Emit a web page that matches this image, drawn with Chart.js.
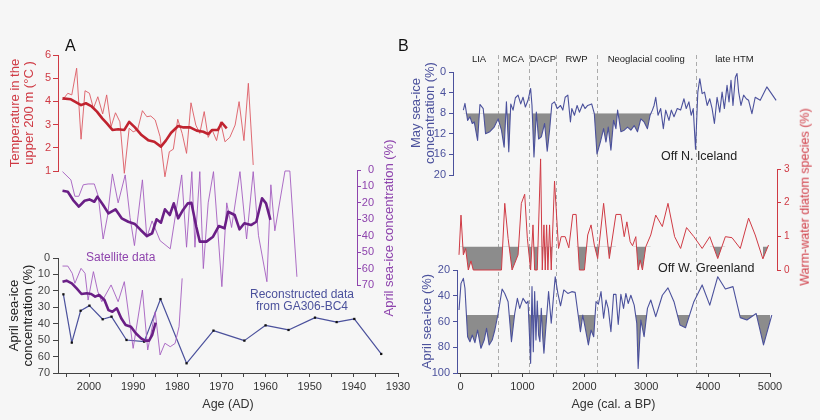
<!DOCTYPE html>
<html><head><meta charset="utf-8">
<script src="https://cdn.jsdelivr.net/npm/chart.js@4.4.0/dist/chart.umd.min.js"></script>
<style>
html,body{margin:0;padding:0;background:#f6f6f6;}
#wrap{position:relative;width:820px;height:420px;overflow:hidden;font-family:"Liberation Sans",Arial,Helvetica,sans-serif;}
canvas{position:absolute;left:0;top:0;}
.t{position:absolute;white-space:nowrap;line-height:1;}
.rot{position:absolute;white-space:nowrap;transform:translate(-50%,-50%) rotate(-90deg);text-align:center;}
</style></head><body><div id="wrap">
<canvas id="cBb" width="820" height="420"></canvas>
<canvas id="cBt" width="820" height="420"></canvas>
<canvas id="cBm" width="820" height="420"></canvas>
<canvas id="cA1" width="820" height="420"></canvas>
<canvas id="cA2" width="820" height="420"></canvas>
<canvas id="cA3" width="820" height="420"></canvas>
<div class="t" style="left:65px;top:38px;font-size:16px;color:#111;">A</div>
<div class="t" style="left:398px;top:38px;font-size:16px;color:#111;">B</div>
<div class="t" style="left:86px;top:251px;font-size:12px;color:#8e44ad;">Satellite data</div>
<div class="t" style="left:302px;top:289px;font-size:12px;color:#4b519c;transform:translateX(-50%);text-align:center;line-height:11.5px;">Reconstructed data<br>from GA306-BC4</div>
<div class="t" style="left:661px;top:150px;font-size:12.5px;color:#222;">Off N. Iceland</div>
<div class="t" style="left:658px;top:262px;font-size:12.5px;color:#222;">Off W. Greenland</div>
<div class="rot" style="left:388px;top:228px;font-size:13px;color:#8e44ad;line-height:1;">April sea-ice concentration (%)</div>
<div class="rot" style="left:805px;top:197px;font-size:12.5px;color:#cf3a44;line-height:1;">Warm-water diatom species (%)</div>
<div class="rot" style="left:422px;top:113px;font-size:13px;color:#4b519c;line-height:13.5px;">May sea-ice<br>concentration (%)</div>
</div>
<script>
// ---------------- DATA ----------------
// Panel A: temperature in the upper 200 m (thin = annual, thick = smoothed)
const tempYears = [2006.0,2004.8,2003.9,2002.8,2001.8,2000.9,1999.9,1999.0,1998.0,1996.9,1996.0,1995.0,1994.0,1993.0,1992.0,1990.9,1990.0,1989.0,1987.9,1986.9,1986.0,1985.0,1983.9,1982.8,1981.8,1980.9,1979.9,1978.9,1977.9,1976.9,1975.8,1974.9,1973.9,1973.0,1972.1,1971.1,1970.2,1969.2,1968.1,1966.9,1966.0,1964.9,1963.9,1962.8];
const tempValues = [4.06,4.35,4.28,5.43,2.37,4.46,4.35,3.70,4.20,3.46,4.28,2.91,3.51,3.12,0.90,2.84,2.69,2.77,3.60,3.34,3.37,3.20,2.48,0.75,1.83,1.94,3.23,2.62,1.76,3.94,2.98,2.62,3.56,2.45,2.77,2.31,3.12,2.26,2.45,2.98,3.99,2.31,4.78,1.26];
const tempSmoothYears = [2006.0,2004.1,2002.7,2001.8,2000.7,1999.5,1998.2,1997.0,1996.0,1994.7,1993.4,1992.0,1990.9,1989.6,1988.1,1986.6,1985.2,1983.7,1982.6,1981.4,1979.8,1978.6,1977.1,1975.6,1974.1,1973.0,1972.1,1970.8,1969.9,1968.8];
const tempSmoothValues = [4.13,4.09,3.94,3.84,3.92,3.80,3.56,3.27,3.06,2.77,2.80,2.77,3.12,2.88,2.55,2.33,2.26,2.05,2.31,2.65,2.94,2.88,2.88,2.74,2.69,2.59,2.77,2.77,3.08,2.84];

// Panel A: satellite April sea-ice concentration (middle)
const satYears = [2006.0,2004.1,2003.2,2002.3,2001.3,2000.2,1998.8,1997.9,1996.8,1995.8,1994.7,1993.4,1991.8,1990.7,1989.7,1987.9,1986.9,1985.7,1983.9,1981.6,1979.0,1977.9,1976.7,1976.0,1974.9,1974.1,1973.0,1971.8,1969.9,1968.8,1967.7,1965.8,1964.3,1962.8,1961.6,1959.7,1958.8,1957.9,1955.6,1954.5,1952.9];
const satValues = [1,6,16,16,9,8.5,8.5,16,42,28,2.4,20,3,29,46,6,41,31,43,48,3,47,1,47,1,60,20,1,71,20,35,1,42,1,40,68,9,37,0.6,0.6,65];
const satSmoothYears = [2006.0,2004.8,2003.6,2002.3,2001.0,1999.9,1998.8,1998.1,1996.8,1995.6,1994.0,1992.6,1991.1,1989.6,1988.3,1986.9,1985.7,1984.7,1983.7,1982.8,1981.7,1980.8,1979.8,1978.7,1977.6,1976.8,1975.7,1974.9,1973.4,1971.9,1970.6,1969.3,1968.5,1967.0,1965.9,1964.8,1963.3,1962.1,1960.8,1959.9,1958.9];
const satSmoothValues = [12.6,13.2,18.3,22.3,18.7,17.9,19.3,16.2,21.3,26.4,23.9,29.4,31.5,32.9,36.5,40.2,38.5,30.0,32.1,23.9,27.4,20.3,29.4,24.3,20.3,19.9,34.5,43.6,43.6,40.6,34.1,35.5,25.4,27.4,36.1,32.4,33.5,31.5,17.2,20.3,30.4];

// Panel A: bottom, satellite vs reconstructed (GA306-BC4)
const satBYears = [2006.0,2004.8,2003.8,2003.2,2001.8,2000.9,2000.2,1999.0,1998.0,1997.1,1995.0,1993.4,1992.0,1990.0,1987.9,1986.7,1985.0,1983.9,1982.8,1981.6,1980.5,1979.6,1978.9];
const satBValues = [4.9,4.9,9.3,15.4,6.3,9.3,25.6,8.3,20.5,26.6,16.4,26.6,14.4,55,19.5,56,32.7,59,51.9,54,52,41.8,12.4];
const satBSmoothYears = [2006.0,2005.1,2003.9,2002.8,2001.7,2000.5,1999.5,1998.6,1997.7,1996.5,1995.6,1994.7,1993.7,1992.7,1991.7,1990.5,1989.4,1988.2,1987.3,1986.4,1985.7,1984.9];
const satBSmoothValues = [14.4,13.8,15.4,18.5,21.9,21.5,21.9,23.5,22.5,25.6,31.7,32.7,30.6,36.7,40.8,41.8,45.8,48.9,50.3,50.3,46.9,39.4];
const reconYears = [2005.8,2003.9,2001.9,1999.9,1996.9,1994.9,1991.5,1987.5,1983.8,1977.9,1971.8,1964.8,1960.0,1954.8,1948.8,1943.9,1939.9,1933.8];
const reconValues = [22.1,51.5,32.1,29.0,37.3,35.7,49.9,50.9,25.0,64.1,44.2,50.3,41.0,43.8,36.3,39.0,37.1,58.4];

// Panel B: periods
const periodBounds = [600,1110,1550,2200,3800];
const periodEdges = [0,600,1110,1550,2200,3800,5050];
const periodNames = ['LIA','MCA','DACP','RWP','Neoglacial cooling','late HTM'];

// Panel B top: May sea-ice off N. Iceland
const mayAge = [46,72,115,153,190,222,276,314,367,405,
  474,544,608,662,705,742,780,812,849,887,
  930,973,1010,1048,1091,1133,1155,1187,1225,1262,
  1305,1359,1401,1439,1476,1519,1562,1616,1653,1691,
  1734,1776,1798,1841,1884,1921,1975,2012,2055,2119,
  2162,2205,2259,2312,2350,2387,2430,2473,2511,2538,
  2591,2645,2699,2752,2806,2859,2913,2966,3020,3063,
  3100,3127,3154,3191,3234,3277,3315,3368,3406,3449,
  3502,3556,3610,3647,3690,3727,3760,3797,3834,3866,
  3904,3942,3985,4027,4065,4102,4145,4188,4226,4263,
  4306,4338,4370,4402,4440,4467,4494,4531,4574,4617,
  4654,4708,4761,4842,4949,5099];
const mayIce = [7.4,6.1,9.4,8.7,10.0,9.7,13.3,6.3,7.1,12.0,
  11.6,10.7,9.1,11.3,14.6,5.8,15.5,6.2,7.4,5.0,
  4.5,6.2,4.9,6.8,5.5,3.2,6.5,16.5,7.8,13.0,
  12.6,10.0,15.4,11.3,6.2,5.8,7.1,6.5,7.4,4.9,
  4.5,9.7,7.1,8.4,6.5,7.8,6.2,7.1,6.5,6.2,
  8.1,15.9,13.6,11.0,13.6,10.7,15.2,9.4,11.0,7.4,
  11.6,11.3,10.7,11.3,10.4,11.6,9.1,9.7,11.0,8.4,
  7.4,6.5,4.9,8.4,7.1,11.0,7.4,9.4,7.4,8.7,
  7.1,7.4,5.2,7.1,5.8,8.4,7.1,15.0,3.9,1.3,
  4.2,3.9,6.5,5.2,7.1,10.0,4.9,7.8,3.9,7.1,
  2.6,5.8,1.6,6.5,1.0,0.3,3.9,6.5,4.5,5.2,
  5.5,8.1,4.9,5.5,2.9,5.5];
const mayThreshold = 8;
const mayShade = [[0,820],[1150,1480],[2110,3130]];

// Panel B middle: warm-water diatom species off W. Greenland
const diatomAge = [-24,8,46,83,126,169,206,233,662,715,
  769,833,930,983,1037,1080,1133,1171,1198,1240,
  1294,1321,1348,1369,1391,1412,1439,1466,1519,1584,
  1626,1691,1750,1814,1868,1921,2002,2055,2109,2162,
  2216,2312,2404,2511,2591,2645,2688,2741,2779,2832,
  2870,2902,2939,2993,3074,3154,3261,3352,3459,3556,
  3652,3770,3904,4027,4156,4279,4386,4520,4654,4761,
  4885,4976];
const diatomPct = [0.45,1.63,0.45,0.64,0,0.27,0,0,0,1.98,
  0.94,0,0.45,1.98,2.25,0.94,0,1.34,0,0,
  3.3,0,1.34,0,1.34,0,1.34,0,2.64,0.64,
  0.99,0.99,0.66,1.65,1.65,0,0,1.04,1.34,0.74,
  0.34,1.98,0.34,1.65,1.65,0.99,1.43,0.84,0.72,0.99,
  0,0.3,0,0.69,1.04,1.63,1.29,1.98,0.99,0.64,
  1.26,0.99,0.64,0.99,0.34,0.99,0.96,0.64,1.54,1.04,
  0.33,0.74];
const diatomThreshold = 0.7;
const diatomShade = [[-30,1520],[1860,2520],[2770,3080],[4020,4280],[4770,4980]];

// Panel B bottom: April sea-ice off W. Greenland
const aprAge = [-24,8,46,72,115,153,190,233,276,330,
  383,421,463,512,555,608,672,715,769,823,
  876,919,957,1010,1064,1091,1133,1155,1176,1198,
  1219,1240,1262,1283,1305,1326,1348,1369,1423,1466,
  1530,1573,1616,1669,1734,1798,1852,1905,1937,1975,
  2012,2066,2109,2152,2189,2227,2270,2312,2350,2387,
  2430,2473,2511,2548,2591,2634,2672,2709,2752,2806,
  2848,2870,2913,2966,3020,3074,3154,3261,3352,3449,
  3545,3636,3770,3904,4027,4156,4279,4402,4520,4627,
  4777,4895,5029];
const aprIce = [51.1,30.4,26.5,34.2,71.8,75.7,70.5,76.4,66.6,80.8,
  74.4,65.3,78.2,74.4,66.6,53.8,34.8,38.2,44.6,75.7,
  53.8,42.0,49.8,42.0,45.9,44.1,92.5,32.9,83.4,36.8,
  74.4,44.1,70.5,75.7,49.8,70.5,84.7,70.5,36.8,61.4,
  25.2,38.2,47.8,35.5,38.2,36.8,37.4,56.3,68,55,
  64.1,78.2,66.6,71.8,44.6,46.6,36.8,57.5,43.3,49.8,
  67.9,38.9,38.9,62.2,38.9,49.8,38.2,46,39.6,47.3,
  61.4,96.4,58.8,71.8,49.8,43.3,56.2,39.6,33.9,44.6,
  62.7,64.8,44.6,31.6,47.3,25.2,34.8,32.9,57,58.8,
  53.8,78.2,55];
const aprThreshold = 55;
const aprShade = [[40,620],[760,880],[1090,1430],[1850,2230],[2800,3080],[3440,3780],[4400,5030]];

// ---------------- LAYOUT HELPERS ----------------
const FONT = '"Liberation Sans", Arial, Helvetica, sans-serif';
Chart.defaults.font.family = FONT;
const CW = 820, CH = 420;
const A_X0 = 89, A_PX = 309/70;          // pixel of year 2000, px per year
const aYear = px => 2000 - (px - A_X0) / A_PX;
const B_X0 = 460.5, B_PX = 0.0619;       // pixel of age 0, px per year
const bAge = px => (px - B_X0) / B_PX;

const C_RED = '#cf3a44', C_PUR = '#8e44ad', C_BLUE = '#4b519c', C_AX = '#444';

function pts(xs, ys){ return xs.map((x,i)=>({x:x, y:ys[i]})); }
function shaded(xs, ys, ranges){
  return xs.map((x,i)=>({x:x, y: ranges.some(r=>x>=r[0] && x<=r[1]) ? ys[i] : null}));
}
function yAxis(o){
  return {
    type:'linear', position:o.pos, min:o.min, max:o.max, reverse:!!o.rev, _size:o.size,
    border:{display:true, color:o.color, width:1},
    grid:{display:true, drawOnChartArea:false, drawTicks:true, tickLength:o.tl, color:o.color, lineWidth:1},
    ticks:{stepSize:o.step, color:o.color, font:{size:o.fs||11}, padding:o.pad, includeBounds:false,
           crossAlign:o.far?'far':'near', callback:v=>String(v)},
    title: o.title ? {display:true, text:o.title, color:o.tcolor||o.color, font:{size:13, lineHeight:1.1}, padding:0} : {display:false}
  };
}
function xAxis(o){
  return {
    type:'linear', position:'bottom', min:o.min, max:o.max, reverse:!!o.rev, _size:o.size,
    border:{display:true, color:C_AX, width:1},
    grid:{display:true, drawOnChartArea:false, drawTicks:true, tickLength:4, color:C_AX, lineWidth:1},
    ticks:{autoSkip:false, maxRotation:0, includeBounds:false, color:'#333', font:{size:11}, padding:3,
           callback:v=> (Math.round(v) % o.major === 0 ? String(Math.round(v)) : '')},
    afterBuildTicks: sc => {
      const t = [];
      for (let v = Math.ceil(sc.min / o.step) * o.step; v <= sc.max + 1e-9; v += o.step) t.push({value:v});
      sc.ticks = t;
    },
    title:{display:true, text:o.title, color:'#333', font:{size:12.5, lineHeight:1.2}, padding:0}
  };
}
function hiddenX(min, max, rev){ return {type:'linear', display:false, min:min, max:max, reverse:!!rev}; }

function makeChart(id, area, scales, datasets, plugins){
  let pl = area.l, pr = CW - area.r, pt = area.t, pb = CH - area.b;
  for (const k in scales){
    const s = scales[k];
    if (s.display === false) continue;
    const sz = s._size; delete s._size;
    if (s.position === 'left') pl -= sz;
    else if (s.position === 'right') pr -= sz;
    else if (s.position === 'bottom') pb -= sz;
    s.afterFit = sc => { if (sc.isHorizontal()) sc.height = sz; else sc.width = sz; };
  }
  return new Chart(document.getElementById(id), {
    type:'line',
    data:{datasets:datasets},
    options:{
      responsive:false, animation:false, events:[],
      layout:{padding:{left:pl, right:pr, top:pt, bottom:pb}},
      plugins:{legend:{display:false}, tooltip:{enabled:false}},
      elements:{point:{radius:0}, line:{tension:0}},
      scales:scales
    },
    plugins:plugins || []
  });
}
function line(data, color, width, extra){
  return Object.assign({data:data, borderColor:color, borderWidth:width, pointRadius:0, fill:false, clip:false, borderJoinStyle:'round'}, extra||{});
}
function shadeSet(data, thr){
  return {data:data, borderColor:'rgba(0,0,0,0)', borderWidth:0, pointRadius:0, spanGaps:false, clip:false,
          backgroundColor:'#8c8c8c', fill:{target:{value:thr}, above:'rgba(0,0,0,0)', below:'#8c8c8c'}};
}

// ---------------- PANEL B ----------------
const periodPlugin = {
  id:'periods',
  beforeDatasetsDraw(chart){
    const {ctx, chartArea} = chart; const x = chart.scales.x;
    ctx.save();
    ctx.strokeStyle = '#ababab'; ctx.lineWidth = 1; ctx.setLineDash([4,3]);
    periodBounds.forEach(b=>{
      const px = Math.round(x.getPixelForValue(b)) + 0.5;
      ctx.beginPath(); ctx.moveTo(px, 55); ctx.lineTo(px, chartArea.bottom); ctx.stroke();
    });
    ctx.setLineDash([]);
    ctx.fillStyle = '#222'; ctx.font = '9.5px ' + FONT; ctx.textAlign = 'center'; ctx.textBaseline = 'middle';
    periodNames.forEach((n,i)=>{
      ctx.fillText(n, x.getPixelForValue((periodEdges[i] + periodEdges[i+1]) / 2), 59);
    });
    ctx.restore();
  }
};

// bottom (April sea-ice) with shared age axis
const bbArea = {l:457, r:B_X0 + 5000*B_PX, t:270, b:373};
makeChart('cBb', bbArea, {
  x: xAxis({min:bAge(bbArea.l), max:5000, step:500, major:1000, size:38.8, title:'Age (cal. a BP)'}),
  y: yAxis({pos:'left', min:20, max:100, step:20, rev:true, color:C_BLUE, size:36.3, tl:4, pad:3, title:'April sea-ice (%)'})
}, [
  line(pts(aprAge, aprIce), C_BLUE, 1.1),
  shadeSet(shaded(aprAge, aprIce, aprShade), aprThreshold)
], [periodPlugin]);

// top (May sea-ice)
const btArea = {l:453, r:780, t:72, b:175};
makeChart('cBt', btArea, {
  x: hiddenX(bAge(btArea.l), bAge(btArea.r)),
  y: yAxis({pos:'left', min:0, max:20, step:4, rev:true, color:C_BLUE, size:30, tl:4, pad:3})
}, [
  line(pts(mayAge, mayIce), C_BLUE, 1.1),
  shadeSet(shaded(mayAge, mayIce, mayShade), mayThreshold)
]);

// middle (diatoms)
const bmArea = {l:455, r:777, t:169, b:270};
makeChart('cBm', bmArea, {
  x: hiddenX(bAge(bmArea.l), bAge(bmArea.r)),
  y: yAxis({pos:'right', min:0, max:3, step:1, color:C_RED, size:14, tl:4, pad:3, fs:10})
}, [
  line(pts(diatomAge, diatomPct), C_RED, 1.0),
  shadeSet(shaded(diatomAge, diatomPct, diatomShade), diatomThreshold)
]);

// ---------------- PANEL A ----------------
const a1Area = {l:58, r:398, t:55, b:171};
makeChart('cA1', a1Area, {
  x: hiddenX(aYear(a1Area.r), aYear(a1Area.l), true),
  y: yAxis({pos:'left', min:1, max:6, step:1, color:C_RED, size:50, tl:5, pad:2, title:['Temperature in the','upper 200 m (\u00b0C )']})
}, [
  line(pts(tempSmoothYears, tempSmoothValues), '#c0232f', 2.6),
  line(pts(tempYears, tempValues), '#dc5a63', 0.9)
]);

const a2Area = {l:58, r:357, t:170, b:285};
makeChart('cA2', a2Area, {
  x: hiddenX(aYear(a2Area.r), aYear(a2Area.l), true),
  y: yAxis({pos:'right', min:0, max:70, step:10, rev:true, color:C_PUR, size:17, tl:4, pad:2, far:true})
}, [
  line(pts(satSmoothYears, satSmoothValues), '#6a1f86', 2.6),
  line(pts(satYears, satValues), '#a45ec0', 0.9)
]);

const a3Area = {l:58, r:398, t:258, b:373};
makeChart('cA3', a3Area, {
  x: xAxis({min:aYear(a3Area.r), max:aYear(a3Area.l), rev:true, step:5, major:10, size:38.8, title:'Age (AD)'}),
  y: yAxis({pos:'left', min:0, max:70, step:10, rev:true, color:C_AX, tcolor:'#222', size:51, tl:5, pad:3, title:['April sea-ice','concentration (%)']})
}, [
  line(pts(satBSmoothYears, satBSmoothValues), '#6a1f86', 2.6),
  line(pts(satBYears, satBValues), '#a45ec0', 0.9),
  line(pts(reconYears, reconValues), C_BLUE, 1.2, {pointRadius:1.6, pointStyle:'rect', pointBackgroundColor:'#111', pointBorderWidth:0})
]);
</script>
</body></html>
